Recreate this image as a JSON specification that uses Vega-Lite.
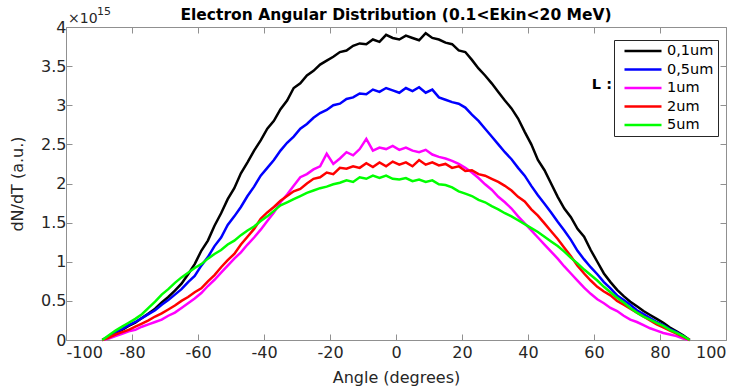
{
  "$schema": "https://vega.github.io/schema/vega-lite/v6.json",
  "width": 660,
  "height": 313,
  "autosize": {"type": "none"},
  "padding": {"left": 66, "top": 27, "right": 14, "bottom": 49},
  "background": "white",
  "config": {
    "view": {"stroke": "#909090", "strokeWidth": 1},
    "font": "DejaVu Sans",
    "axis": {
      "grid": false,
      "domain": false,
      "labelFont": "DejaVu Sans",
      "labelFontSize": 16,
      "labelColor": "#262626",
      "titleFont": "DejaVu Sans",
      "titleFontSize": 16,
      "titleFontWeight": "normal",
      "titleColor": "#262626",
      "tickColor": "#909090",
      "tickSize": -6,
      "labelPadding": 5
    }
  },
  "datasets": {
    "k01": [
      {"a":-89,"v":0.00},{"a":-87,"v":0.04},{"a":-85,"v":0.09},{"a":-83,"v":0.13},{"a":-81,"v":0.18},{"a":-79,"v":0.22},{"a":-77,"v":0.28},{"a":-75,"v":0.34},{"a":-73,"v":0.40},{"a":-71,"v":0.48},
      {"a":-69,"v":0.55},{"a":-67,"v":0.63},{"a":-65,"v":0.72},{"a":-63,"v":0.84},{"a":-61,"v":0.97},{"a":-59,"v":1.14},{"a":-57,"v":1.27},{"a":-55,"v":1.46},{"a":-53,"v":1.62},{"a":-51,"v":1.80},
      {"a":-49,"v":1.94},{"a":-47,"v":2.13},{"a":-45,"v":2.27},{"a":-43,"v":2.42},{"a":-41,"v":2.55},{"a":-39,"v":2.70},{"a":-37,"v":2.80},{"a":-35,"v":2.95},{"a":-33,"v":3.06},{"a":-31,"v":3.22},
      {"a":-29,"v":3.28},{"a":-27,"v":3.38},{"a":-25,"v":3.44},{"a":-23,"v":3.52},{"a":-21,"v":3.57},{"a":-19,"v":3.62},{"a":-17,"v":3.68},{"a":-15,"v":3.70},{"a":-13,"v":3.76},{"a":-11,"v":3.79},
      {"a":-9,"v":3.78},{"a":-7,"v":3.84},{"a":-5,"v":3.81},{"a":-3,"v":3.90},{"a":-1,"v":3.86},{"a":1,"v":3.84},{"a":3,"v":3.89},{"a":5,"v":3.86},{"a":7,"v":3.83},{"a":9,"v":3.92},
      {"a":11,"v":3.86},{"a":13,"v":3.84},{"a":15,"v":3.80},{"a":17,"v":3.78},{"a":19,"v":3.70},{"a":21,"v":3.68},{"a":23,"v":3.58},{"a":25,"v":3.47},{"a":27,"v":3.38},{"a":29,"v":3.28},
      {"a":31,"v":3.17},{"a":33,"v":3.06},{"a":35,"v":2.96},{"a":37,"v":2.83},{"a":39,"v":2.66},{"a":41,"v":2.50},{"a":43,"v":2.30},{"a":45,"v":2.17},{"a":47,"v":2.00},{"a":49,"v":1.83},
      {"a":51,"v":1.68},{"a":53,"v":1.57},{"a":55,"v":1.42},{"a":57,"v":1.32},{"a":59,"v":1.15},{"a":61,"v":1.00},{"a":63,"v":0.85},{"a":65,"v":0.74},{"a":67,"v":0.64},{"a":69,"v":0.56},
      {"a":71,"v":0.49},{"a":73,"v":0.43},{"a":75,"v":0.37},{"a":77,"v":0.32},{"a":79,"v":0.27},{"a":81,"v":0.22},{"a":83,"v":0.16},{"a":85,"v":0.11},{"a":87,"v":0.06},{"a":89,"v":0.00}
    ],
    "k05": [
      {"a":-89,"v":0.00},{"a":-87,"v":0.05},{"a":-85,"v":0.10},{"a":-83,"v":0.14},{"a":-81,"v":0.19},{"a":-79,"v":0.23},{"a":-77,"v":0.28},{"a":-75,"v":0.33},{"a":-73,"v":0.38},{"a":-71,"v":0.45},
      {"a":-69,"v":0.51},{"a":-67,"v":0.58},{"a":-65,"v":0.65},{"a":-63,"v":0.74},{"a":-61,"v":0.82},{"a":-59,"v":0.95},{"a":-57,"v":1.06},{"a":-55,"v":1.20},{"a":-53,"v":1.31},{"a":-51,"v":1.47},
      {"a":-49,"v":1.58},{"a":-47,"v":1.70},{"a":-45,"v":1.84},{"a":-43,"v":1.96},{"a":-41,"v":2.10},{"a":-39,"v":2.20},{"a":-37,"v":2.30},{"a":-35,"v":2.42},{"a":-33,"v":2.52},{"a":-31,"v":2.60},
      {"a":-29,"v":2.70},{"a":-27,"v":2.76},{"a":-25,"v":2.84},{"a":-23,"v":2.90},{"a":-21,"v":2.94},{"a":-19,"v":3.00},{"a":-17,"v":3.02},{"a":-15,"v":3.08},{"a":-13,"v":3.10},{"a":-11,"v":3.15},
      {"a":-9,"v":3.14},{"a":-7,"v":3.20},{"a":-5,"v":3.17},{"a":-3,"v":3.22},{"a":-1,"v":3.19},{"a":1,"v":3.16},{"a":3,"v":3.22},{"a":5,"v":3.18},{"a":7,"v":3.23},{"a":9,"v":3.16},
      {"a":11,"v":3.20},{"a":13,"v":3.10},{"a":15,"v":3.07},{"a":17,"v":3.04},{"a":19,"v":3.02},{"a":21,"v":2.97},{"a":23,"v":2.88},{"a":25,"v":2.80},{"a":27,"v":2.70},{"a":29,"v":2.60},
      {"a":31,"v":2.50},{"a":33,"v":2.40},{"a":35,"v":2.31},{"a":37,"v":2.20},{"a":39,"v":2.10},{"a":41,"v":1.97},{"a":43,"v":1.85},{"a":45,"v":1.74},{"a":47,"v":1.63},{"a":49,"v":1.51},
      {"a":51,"v":1.40},{"a":53,"v":1.28},{"a":55,"v":1.14},{"a":57,"v":1.03},{"a":59,"v":0.93},{"a":61,"v":0.84},{"a":63,"v":0.74},{"a":65,"v":0.66},{"a":67,"v":0.57},{"a":69,"v":0.51},
      {"a":71,"v":0.45},{"a":73,"v":0.38},{"a":75,"v":0.33},{"a":77,"v":0.28},{"a":79,"v":0.23},{"a":81,"v":0.19},{"a":83,"v":0.14},{"a":85,"v":0.10},{"a":87,"v":0.05},{"a":89,"v":0.00}
    ],
    "k1": [
      {"a":-89,"v":0.00},{"a":-87,"v":0.02},{"a":-85,"v":0.05},{"a":-83,"v":0.08},{"a":-81,"v":0.11},{"a":-79,"v":0.13},{"a":-77,"v":0.17},{"a":-75,"v":0.20},{"a":-73,"v":0.23},{"a":-71,"v":0.26},
      {"a":-69,"v":0.31},{"a":-67,"v":0.35},{"a":-65,"v":0.41},{"a":-63,"v":0.47},{"a":-61,"v":0.53},{"a":-59,"v":0.60},{"a":-57,"v":0.69},{"a":-55,"v":0.77},{"a":-53,"v":0.86},{"a":-51,"v":0.95},
      {"a":-49,"v":1.04},{"a":-47,"v":1.12},{"a":-45,"v":1.22},{"a":-43,"v":1.31},{"a":-41,"v":1.41},{"a":-39,"v":1.52},{"a":-37,"v":1.63},{"a":-35,"v":1.76},{"a":-33,"v":1.86},{"a":-31,"v":1.97},
      {"a":-29,"v":2.08},{"a":-27,"v":2.12},{"a":-25,"v":2.18},{"a":-23,"v":2.22},{"a":-21,"v":2.38},{"a":-19,"v":2.25},{"a":-17,"v":2.32},{"a":-15,"v":2.40},{"a":-13,"v":2.36},{"a":-11,"v":2.44},
      {"a":-9,"v":2.57},{"a":-7,"v":2.42},{"a":-5,"v":2.46},{"a":-3,"v":2.44},{"a":-1,"v":2.48},{"a":1,"v":2.43},{"a":3,"v":2.46},{"a":5,"v":2.42},{"a":7,"v":2.40},{"a":9,"v":2.43},
      {"a":11,"v":2.37},{"a":13,"v":2.34},{"a":15,"v":2.32},{"a":17,"v":2.29},{"a":19,"v":2.25},{"a":21,"v":2.20},{"a":23,"v":2.14},{"a":25,"v":2.07},{"a":27,"v":1.99},{"a":29,"v":1.92},
      {"a":31,"v":1.83},{"a":33,"v":1.76},{"a":35,"v":1.68},{"a":37,"v":1.58},{"a":39,"v":1.49},{"a":41,"v":1.40},{"a":43,"v":1.31},{"a":45,"v":1.22},{"a":47,"v":1.13},{"a":49,"v":1.04},
      {"a":51,"v":0.94},{"a":53,"v":0.85},{"a":55,"v":0.76},{"a":57,"v":0.67},{"a":59,"v":0.59},{"a":61,"v":0.52},{"a":63,"v":0.47},{"a":65,"v":0.41},{"a":67,"v":0.37},{"a":69,"v":0.31},
      {"a":71,"v":0.26},{"a":73,"v":0.23},{"a":75,"v":0.19},{"a":77,"v":0.15},{"a":79,"v":0.12},{"a":81,"v":0.09},{"a":83,"v":0.07},{"a":85,"v":0.05},{"a":87,"v":0.02},{"a":89,"v":0.00}
    ],
    "k2": [
      {"a":-89,"v":0.00},{"a":-87,"v":0.03},{"a":-85,"v":0.07},{"a":-83,"v":0.10},{"a":-81,"v":0.13},{"a":-79,"v":0.17},{"a":-77,"v":0.21},{"a":-75,"v":0.25},{"a":-73,"v":0.30},{"a":-71,"v":0.34},
      {"a":-69,"v":0.39},{"a":-67,"v":0.44},{"a":-65,"v":0.50},{"a":-63,"v":0.55},{"a":-61,"v":0.61},{"a":-59,"v":0.66},{"a":-57,"v":0.75},{"a":-55,"v":0.83},{"a":-53,"v":0.93},{"a":-51,"v":1.02},
      {"a":-49,"v":1.10},{"a":-47,"v":1.22},{"a":-45,"v":1.32},{"a":-43,"v":1.42},{"a":-41,"v":1.55},{"a":-39,"v":1.63},{"a":-37,"v":1.70},{"a":-35,"v":1.78},{"a":-33,"v":1.84},{"a":-31,"v":1.90},
      {"a":-29,"v":1.93},{"a":-27,"v":2.00},{"a":-25,"v":2.06},{"a":-23,"v":2.08},{"a":-21,"v":2.14},{"a":-19,"v":2.12},{"a":-17,"v":2.20},{"a":-15,"v":2.19},{"a":-13,"v":2.22},{"a":-11,"v":2.20},
      {"a":-9,"v":2.26},{"a":-7,"v":2.21},{"a":-5,"v":2.27},{"a":-3,"v":2.22},{"a":-1,"v":2.28},{"a":1,"v":2.24},{"a":3,"v":2.27},{"a":5,"v":2.22},{"a":7,"v":2.30},{"a":9,"v":2.24},
      {"a":11,"v":2.27},{"a":13,"v":2.23},{"a":15,"v":2.25},{"a":17,"v":2.20},{"a":19,"v":2.22},{"a":21,"v":2.16},{"a":23,"v":2.17},{"a":25,"v":2.12},{"a":27,"v":2.10},{"a":29,"v":2.06},
      {"a":31,"v":2.02},{"a":33,"v":1.97},{"a":35,"v":1.91},{"a":37,"v":1.83},{"a":39,"v":1.77},{"a":41,"v":1.67},{"a":43,"v":1.59},{"a":45,"v":1.49},{"a":47,"v":1.39},{"a":49,"v":1.29},
      {"a":51,"v":1.18},{"a":53,"v":1.07},{"a":55,"v":0.95},{"a":57,"v":0.85},{"a":59,"v":0.76},{"a":61,"v":0.68},{"a":63,"v":0.62},{"a":65,"v":0.57},{"a":67,"v":0.50},{"a":69,"v":0.45},
      {"a":71,"v":0.40},{"a":73,"v":0.35},{"a":75,"v":0.30},{"a":77,"v":0.25},{"a":79,"v":0.20},{"a":81,"v":0.16},{"a":83,"v":0.12},{"a":85,"v":0.08},{"a":87,"v":0.04},{"a":89,"v":0.00}
    ],
    "k5": [
      {"a":-89,"v":0.00},{"a":-87,"v":0.06},{"a":-85,"v":0.12},{"a":-83,"v":0.17},{"a":-81,"v":0.22},{"a":-79,"v":0.27},{"a":-77,"v":0.33},{"a":-75,"v":0.41},{"a":-73,"v":0.49},{"a":-71,"v":0.58},
      {"a":-69,"v":0.65},{"a":-67,"v":0.73},{"a":-65,"v":0.80},{"a":-63,"v":0.86},{"a":-61,"v":0.92},{"a":-59,"v":0.97},{"a":-57,"v":1.04},{"a":-55,"v":1.10},{"a":-53,"v":1.15},{"a":-51,"v":1.22},
      {"a":-49,"v":1.27},{"a":-47,"v":1.34},{"a":-45,"v":1.40},{"a":-43,"v":1.45},{"a":-41,"v":1.52},{"a":-39,"v":1.58},{"a":-37,"v":1.65},{"a":-35,"v":1.72},{"a":-33,"v":1.76},{"a":-31,"v":1.80},
      {"a":-29,"v":1.84},{"a":-27,"v":1.88},{"a":-25,"v":1.91},{"a":-23,"v":1.94},{"a":-21,"v":1.96},{"a":-19,"v":1.99},{"a":-17,"v":2.01},{"a":-15,"v":2.04},{"a":-13,"v":2.02},{"a":-11,"v":2.08},
      {"a":-9,"v":2.06},{"a":-7,"v":2.10},{"a":-5,"v":2.07},{"a":-3,"v":2.10},{"a":-1,"v":2.06},{"a":1,"v":2.05},{"a":3,"v":2.07},{"a":5,"v":2.03},{"a":7,"v":2.05},{"a":9,"v":2.02},
      {"a":11,"v":2.04},{"a":13,"v":1.99},{"a":15,"v":1.98},{"a":17,"v":1.95},{"a":19,"v":1.90},{"a":21,"v":1.87},{"a":23,"v":1.84},{"a":25,"v":1.79},{"a":27,"v":1.76},{"a":29,"v":1.71},
      {"a":31,"v":1.67},{"a":33,"v":1.62},{"a":35,"v":1.58},{"a":37,"v":1.53},{"a":39,"v":1.48},{"a":41,"v":1.43},{"a":43,"v":1.38},{"a":45,"v":1.32},{"a":47,"v":1.26},{"a":49,"v":1.20},
      {"a":51,"v":1.13},{"a":53,"v":1.05},{"a":55,"v":0.98},{"a":57,"v":0.90},{"a":59,"v":0.83},{"a":61,"v":0.76},{"a":63,"v":0.68},{"a":65,"v":0.61},{"a":67,"v":0.54},{"a":69,"v":0.48},
      {"a":71,"v":0.41},{"a":73,"v":0.35},{"a":75,"v":0.30},{"a":77,"v":0.26},{"a":79,"v":0.22},{"a":81,"v":0.18},{"a":83,"v":0.13},{"a":85,"v":0.09},{"a":87,"v":0.05},{"a":89,"v":0.00}
    ],
    "notes": [
      {"t": "Electron Angular Distribution (0.1<Ekin<20 MeV)", "x": 0, "y": 4},
      {"t": "×10", "x": -100, "y": 4},
      {"t": "15", "x": -100, "y": 4},
      {"t": "L :", "x": 62.4, "y": 3.26}
    ]
  },
  "layer": [
    {
      "encoding": {
        "x": {
          "field": "a", "type": "quantitative",
          "scale": {"domain": [-100, 100], "nice": false, "zero": false},
          "axis": {"title": "Angle (degrees)", "values": [-100,-80,-60,-40,-20,0,20,40,60,80,100], "labelExpr": "replace(datum.label, '−', '-')", "labelPadding": 10, "titlePadding": 9}
        },
        "y": {
          "field": "v", "type": "quantitative",
          "scale": {"domain": [0, 4], "nice": false},
          "axis": {"title": "dN/dT (a.u.)", "values": [0,0.5,1,1.5,2,2.5,3,3.5,4], "format": "~g", "labelPadding": 6, "titlePadding": 15}
        }
      },
      "layer": [
        {"data": {"name": "k01"}, "mark": {"type": "line", "strokeWidth": 2.5},
         "encoding": {"color": {"datum": "0,1um", "type": "nominal",
           "scale": {"domain": ["0,1um","0,5um","1um","2um","5um"], "range": ["#000000","#0000ff","#ff00ff","#ff0000","#00ff00"]},
           "legend": {"title": null, "orient": "none", "legendX": 548, "legendY": 13, "symbolType": "stroke", "symbolSize": 1369, "symbolStrokeWidth": 2.5, "clipHeight": 14, "rowPadding": 3.5, "padding": 4, "symbolOffset": 5, "labelOffset": 4, "labelFont": "DejaVu Sans", "labelFontSize": 14.5, "labelColor": "#000000", "strokeColor": "#262626", "fillColor": "#ffffff"}}}},
        {"data": {"name": "k05"}, "mark": {"type": "line", "strokeWidth": 2.5}, "encoding": {"color": {"datum": "0,5um", "type": "nominal"}}},
        {"data": {"name": "k1"}, "mark": {"type": "line", "strokeWidth": 2.5}, "encoding": {"color": {"datum": "1um", "type": "nominal"}}},
        {"data": {"name": "k2"}, "mark": {"type": "line", "strokeWidth": 2.5}, "encoding": {"color": {"datum": "2um", "type": "nominal"}}},
        {"data": {"name": "k5"}, "mark": {"type": "line", "strokeWidth": 2.5}, "encoding": {"color": {"datum": "5um", "type": "nominal"}}},
        {"data": {"name": "notes"}, "transform": [{"filter": "datum.x == 0"}],
         "mark": {"type": "text", "align": "center", "baseline": "alphabetic", "dy": -7.5, "fontSize": 15.5, "fontWeight": "bold", "font": "DejaVu Sans", "fill": "#000000"},
         "encoding": {"x": {"field": "x", "type": "quantitative"}, "y": {"field": "y", "type": "quantitative"}, "text": {"field": "t"}}},
        {"data": {"name": "notes"}, "transform": [{"filter": "datum.t == '×10'"}],
         "mark": {"type": "text", "align": "left", "baseline": "alphabetic", "dx": 2, "dy": -4, "fontSize": 14, "font": "DejaVu Sans", "fill": "#262626"},
         "encoding": {"x": {"field": "x", "type": "quantitative"}, "y": {"field": "y", "type": "quantitative"}, "text": {"field": "t"}}},
        {"data": {"name": "notes"}, "transform": [{"filter": "datum.t == '15'"}],
         "mark": {"type": "text", "align": "left", "baseline": "alphabetic", "dx": 31, "dy": -12, "fontSize": 11, "font": "DejaVu Sans", "fill": "#262626"},
         "encoding": {"x": {"field": "x", "type": "quantitative"}, "y": {"field": "y", "type": "quantitative"}, "text": {"field": "t"}}},
        {"data": {"name": "notes"}, "transform": [{"filter": "datum.t == 'L :'"}],
         "mark": {"type": "text", "align": "center", "baseline": "middle", "fontSize": 14.5, "fontWeight": "bold", "font": "DejaVu Sans", "fill": "#000000"},
         "encoding": {"x": {"field": "x", "type": "quantitative"}, "y": {"field": "y", "type": "quantitative"}, "text": {"field": "t"}}}
      ]
    },
    {
      "data": {"name": "k01"},
      "mark": {"type": "line", "opacity": 0},
      "encoding": {
        "x": {"field": "a", "type": "quantitative", "scale": {"domain": [-100, 100], "nice": false, "zero": false},
              "axis": {"orient": "top", "labels": false, "title": null, "values": [-100,-80,-60,-40,-20,0,20,40,60,80,100]}},
        "y": {"field": "v", "type": "quantitative", "scale": {"domain": [0, 4], "nice": false},
              "axis": {"orient": "right", "labels": false, "title": null, "values": [0,0.5,1,1.5,2,2.5,3,3.5,4]}}
      }
    }
  ],
  "resolve": {"axis": {"x": "independent", "y": "independent"}}
}
